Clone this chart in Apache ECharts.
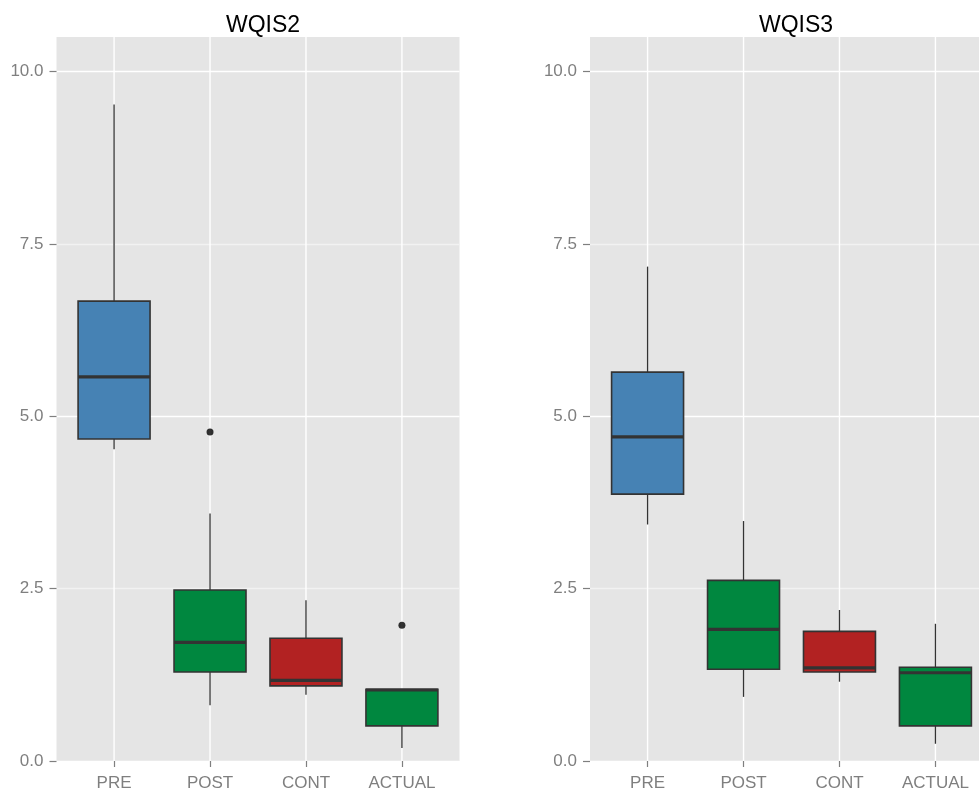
<!DOCTYPE html>
<html><head><meta charset="utf-8">
<script src="https://cdn.jsdelivr.net/npm/echarts@6/dist/echarts.min.js"></script>
<style>html,body{margin:0;padding:0;background:#fff}#c{width:979px;height:789px}</style>
</head><body><div id="c"></div>
<script>
const categories = ['PRE', 'POST', 'CONT', 'ACTUAL'];
const panelTitles = ['WQIS2', 'WQIS3'];
const yTicks = [0, 2.5, 5, 7.5, 10];
const xTicks = [1, 2, 3, 4];
// each box: [lowWhisker, q1, median, q3, highWhisker]
const wqis2Boxes = [
  [4.52, 4.67, 5.57, 6.67, 9.52],
  [0.81, 1.29, 1.72, 2.48, 3.59],
  [0.96, 1.09, 1.17, 1.78, 2.33],
  [0.19, 0.51, 1.03, 1.04, 1.04]
];
const wqis2Outliers = [[2, 4.77], [4, 1.97]];
const wqis3Boxes = [
  [3.43, 3.87, 4.70, 5.64, 7.17],
  [0.93, 1.33, 1.91, 2.62, 3.48],
  [1.15, 1.29, 1.35, 1.88, 2.19],
  [0.25, 0.51, 1.28, 1.36, 1.99]
];
const wqis3Outliers = [];
const boxColors = ['#4682B4', '#00873F', '#B22222', '#00873F'];

const Y_MAX = 10.5;
const FONT = "'Liberation Sans', Arial, sans-serif";
const chart = echarts.init(document.getElementById('c'));

function renderGridLine(params, api) {
  const x = api.value(0);
  const p0 = api.coord([x, 0]);
  const p1 = api.coord([x, Y_MAX]);
  return {type: 'line', shape: {x1: p0[0], y1: p0[1], x2: p1[0], y2: p1[1]},
    style: {stroke: '#FFFFFF', lineWidth: 1.4}};
}
function renderBox(params, api) {
  const x = api.value(0);
  const lo = api.coord([x, api.value(1)]);
  const q1 = api.coord([x, api.value(2)]);
  const md = api.coord([x, api.value(3)]);
  const q3 = api.coord([x, api.value(4)]);
  const hi = api.coord([x, api.value(5)]);
  const w = api.size([0.75, 0])[0];
  const cx = md[0];
  return {type: 'group', children: [
    {type: 'line', shape: {x1: cx, y1: lo[1], x2: cx, y2: q1[1]}, style: {stroke: '#333333', lineWidth: 1.3}},
    {type: 'line', shape: {x1: cx, y1: q3[1], x2: cx, y2: hi[1]}, style: {stroke: '#333333', lineWidth: 1.3}},
    {type: 'rect', shape: {x: cx - w / 2, y: q3[1], width: w, height: q1[1] - q3[1]},
      style: {fill: boxColors[params.dataIndex], stroke: '#333333', lineWidth: 1.6}},
    {type: 'line', shape: {x1: cx - w / 2, y1: md[1], x2: cx + w / 2, y2: md[1]}, style: {stroke: '#333333', lineWidth: 3.2}}
  ]};
}

// right panel is cut off by the window edge
const panels = [
  {title: panelTitles[0], boxes: wqis2Boxes, outliers: wqis2Outliers, left: 56.5, width: 403, center: 258},
  {title: panelTitles[1], boxes: wqis3Boxes, outliers: wqis3Outliers, left: 590, width: 403, center: 791}
];

const option = {
  animation: false,
  backgroundColor: '#FFFFFF',
  title: panels.map(p => ({
    text: p.title, left: p.center, textAlign: 'center', top: 9,
    textStyle: {fontSize: 23, fontWeight: 'normal', color: '#000000', fontFamily: FONT}
  })),
  grid: panels.map(p => ({
    left: p.left, top: 37, width: p.width, height: 724,
    outerBoundsMode: 'none', containLabel: false,
    show: true, backgroundColor: '#E5E5E5', borderWidth: 0
  })),
  xAxis: panels.map((p, i) => ({
    type: 'value', gridIndex: i, min: 0.4, max: 4.6,
    splitLine: {show: false},
    axisLine: {show: false},
    axisTick: {show: true, customValues: xTicks, length: 6, lineStyle: {color: '#7F7F7F', width: 1.2}},
    axisLabel: {customValues: xTicks, formatter: v => categories[Math.round(v) - 1] || '',
      color: '#7F7F7F', fontSize: 17, fontFamily: FONT, margin: 14}
  })),
  yAxis: panels.map((p, i) => ({
    type: 'value', gridIndex: i, min: 0, max: Y_MAX, interval: 1.25,
    splitLine: {show: true, lineStyle: {color: ['#FFFFFF', '#F2F2F2'], width: 1.4}},
    axisLine: {show: false},
    axisTick: {show: true, customValues: yTicks, length: 7, lineStyle: {color: '#7F7F7F', width: 1.2}},
    axisLabel: {customValues: yTicks, formatter: v => v.toFixed(1),
      color: '#7F7F7F', fontSize: 17, fontFamily: FONT, margin: 13}
  })),
  series: []
};

panels.forEach((p, i) => {
  option.series.push({
    type: 'custom', xAxisIndex: i, yAxisIndex: i, z: 1, silent: true,
    renderItem: renderGridLine, encode: {x: 0, y: 1},
    data: xTicks.map(x => [x, 0])
  });
  option.series.push({
    type: 'custom', xAxisIndex: i, yAxisIndex: i, z: 3, silent: true,
    renderItem: renderBox, encode: {x: 0, y: [1, 2, 3, 4, 5]},
    data: p.boxes.map((b, k) => [k + 1].concat(b))
  });
  option.series.push({
    type: 'scatter', xAxisIndex: i, yAxisIndex: i, z: 4, silent: true,
    symbol: 'circle', symbolSize: 7, itemStyle: {color: '#000000'},
    data: p.outliers
  });
});

chart.setOption(option);
</script>
</body></html>
